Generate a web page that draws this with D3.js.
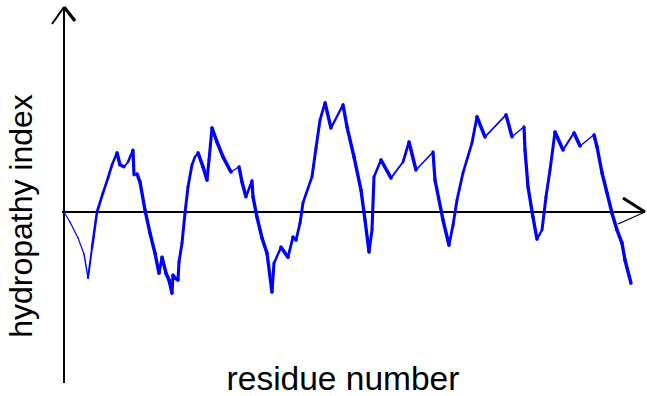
<!DOCTYPE html>
<html><head><meta charset="utf-8">
<script src="https://cdn.jsdelivr.net/npm/d3@7"></script>
<style>body{margin:0;background:#fff}svg{display:block}</style>
</head><body>
<svg id="c" width="647" height="396"></svg>
<script>
const residues = [0,6,14,20,24,28,33,39,44,48,53,56,60,64,69,70,73,76,81,86,91,95,98,102,105,108,109,111,114,115,118,121,124,128,131,134,139,143,145,148,153,159,167,175,178,182,188,189,193,198,203,208,210,217,224,229,232,236,239,248,252,256,261,267,279,283,290,297,301,305,308,310,317,327,339,345,352,369,371,379,385,389,393,399,408,413,421,442,448,460,461,464,469,473,478,482,486,491,499,510,516,530,533,538,543,548,553,558,561,567];
const hydropathy = [0,-0.25,-0.65,-1.05,-1.65,-0.9,0,0.48,0.85,1.18,1.48,1.18,1.13,1.25,1.55,0.93,0.95,0.75,0.05,-0.53,-1.03,-1.53,-1.13,-1.53,-1.7,-2.03,-1.58,-1.65,-1.7,-1.25,-0.78,-0.03,0.63,1.18,1.38,1.48,1.13,0.8,1.3,2.1,1.75,1.38,1.0,1.13,0.75,0.38,0.78,0.38,-0.13,-0.65,-1.03,-2.0,-1.28,-0.88,-1.13,-0.63,-0.7,-0.28,0.23,0.88,1.6,2.3,2.73,2.1,2.68,2.13,1.38,0.55,-0.2,-1.0,-0.45,0.88,1.3,0.85,1.25,1.75,1.05,1.5,0.8,-0.2,-0.83,-0.33,0.3,0.98,1.73,2.38,1.88,2.43,1.88,2.13,1.55,0.63,-0.13,-0.68,-0.45,0.38,1.05,2.0,1.55,1.98,1.65,1.93,1.63,0.98,0.48,-0.03,-0.45,-0.78,-1.2,-1.78];
const xLabel = "residue number";
const yLabel = "hydropathy index";

const svg = d3.select("#c");
const x = d3.scaleLinear().domain([0, 567]).range([64, 631]);
const y = d3.scaleLinear().domain([-4.275, 5.125]).range([383, 7]);

const x0 = x(0), y0 = y(0);
const xEnd = x(581), yTop = y(5.125), yBot = y(-4.275);

// axes
svg.append("line").attr("x1", x0).attr("x2", x0).attr("y1", yBot).attr("y2", yTop+1)
  .attr("stroke","#000").attr("stroke-width",2);
svg.append("line").attr("x1", x0-2).attr("x2", xEnd).attr("y1", y0).attr("y2", y0)
  .attr("stroke","#000").attr("stroke-width",2.2);
// arrow heads
svg.append("path").attr("d", `M${x0-12},${yTop+17}L${x0},${yTop}`).attr("stroke","#000").attr("stroke-width",2).attr("fill","none");
svg.append("path").attr("d", `M${x0},${yTop}L${x0+11},${yTop+14}`).attr("stroke","#000").attr("stroke-width",3.2).attr("fill","none");
svg.append("path").attr("d", `M${xEnd-22},${y0-14}L${xEnd},${y0}`).attr("stroke","#000").attr("stroke-width",3).attr("fill","none");
svg.append("path").attr("d", `M${xEnd},${y0}L${xEnd-27},${y0+12}`).attr("stroke","#000").attr("stroke-width",1.3).attr("fill","none");

// variable-width line (calligraphic look)
const pts = residues.map((r,i)=>[x(r), y(hydropathy[i]), r]);
const phi = -35*Math.PI/180;
const g = svg.append("g");
for (let i=0;i<pts.length-1;i++){
  const [ax,ay,ar] = pts[i], [bx,by,br] = pts[i+1];
  const th = Math.atan2(by-ay, bx-ax);
  let w = 1.2 + 2.4*Math.abs(Math.sin(th-phi));
  const cap = 1.2 + Math.max(0, br-22)*0.12;
  w = Math.min(w, cap);
  g.append("line").attr("x1",ax).attr("y1",ay).attr("x2",bx).attr("y2",by)
    .attr("stroke","#0000ff").attr("stroke-width",w).attr("stroke-linecap","round");
}

// labels
svg.append("text").attr("x", 343).attr("y", 390).attr("text-anchor","middle")
  .attr("font-family","Liberation Sans, Arial, sans-serif").attr("font-size",33.5).text(xLabel);
svg.append("text").attr("transform","translate(32,216) rotate(-90)").attr("text-anchor","middle")
  .attr("font-family","Liberation Sans, Arial, sans-serif").attr("font-size",32).text(yLabel);
</script>
</body></html>
